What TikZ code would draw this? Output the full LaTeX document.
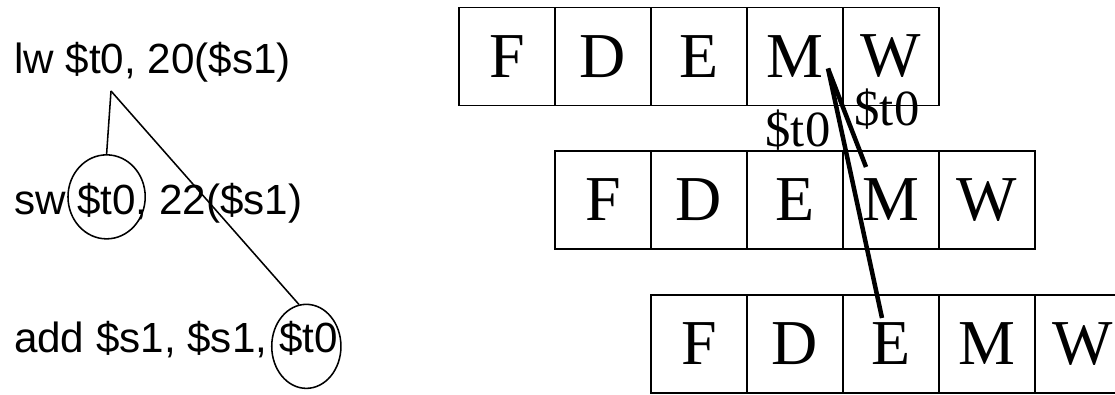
\documentclass[tikz,border=0pt]{standalone}
\usepackage{fontspec}
\setmainfont{Liberation Serif}
\newfontfamily\asmfont{Liberation Sans}
\usetikzlibrary{shapes.geometric,calc}

\begin{document}
\begin{tikzpicture}[x=0.025cm, y=-0.025cm,
  stage/.style={draw, line width=1.4pt, minimum width=2.4cm, minimum height=2.45cm,
                inner sep=0pt, outer sep=0pt, font=\fontsize{45.5}{50}\selectfont},
  asm/.style={anchor=base west, inner sep=0pt, outer sep=0pt,
              font=\asmfont\fontsize{30}{36}\selectfont},
  ring/.style={draw, ellipse, line width=1.1pt, minimum height=2.1cm, inner sep=0pt},
  tie/.style={line width=1.1pt},
  fwd/.style={line width=3.2pt},
  reglbl/.style={inner sep=0pt, font=\fontsize{36}{40}\selectfont},
]
\useasboundingbox (0,0) rectangle (1115,394);

% instructions
\node[asm] (lwop)   at (14,73) {lw~\null};
\node[asm] (lwreg)  at (lwop.base east) {\$t0};
\node[asm] (lwrest) at (lwreg.base east) {, 20(\$s1)};
\node[asm] (swop)   at (14,214) {sw~\null};
\node[asm] (swreg)  at (swop.base east) {\$t0};
\node[asm] (swrest) at (swreg.base east) {, 22(\$s1)};
\node[asm] (addop)  at (14,352) {add \$s1, \$s1,~\null};
\node[asm] (addreg) at (addop.base east) {\$t0};

\node[ring, minimum width=1.93cm] (swring)  at ($(swreg)+(0,-3)$) {};
\node[ring, minimum width=1.73cm] (addring) at ($(addreg)+(-2,8.5)$) {};

\coordinate (lwtap) at (111,91);
\draw[tie] (lwtap) -- (swring.north);
\draw[tie] (lwtap) -- (addring.100);

% pipeline
\node[stage] (lwF) at (507,56.5) {F};
\node[stage] (lwD) at (603,56.5) {D};
\node[stage] (lwE) at (699,56.5) {E};
\node[stage] (lwM) at (795,56.5) {M};
\node[stage] (lwW) at (891,56.5) {W};

\node[stage] (swF) at (603,200) {F};
\node[stage] (swD) at (699,200) {D};
\node[stage] (swE) at (795,200) {E};
\node[stage] (swM) at (891,200) {M};
\node[stage] (swW) at (987,200) {W};

\node[stage] (addF) at (699,344) {F};
\node[stage] (addD) at (795,344) {D};
\node[stage] (addE) at (891,344) {E};
\node[stage] (addM) at (987,344) {M};
\node[stage] (addW) at (1083,344) {W};

\draw[fwd] ($(lwM)+(33,12)$) -- ($(swM)+(-25,-33)$);
\draw[fwd] ($(lwM)+(33,12)$) -- ($(addE)+(-9,-26)$);
\node[reglbl] (fwdA) at (798,130) {\$t0};
\node[reglbl] (fwdB) at (887,109) {\$t0};
\end{tikzpicture}
\end{document}
